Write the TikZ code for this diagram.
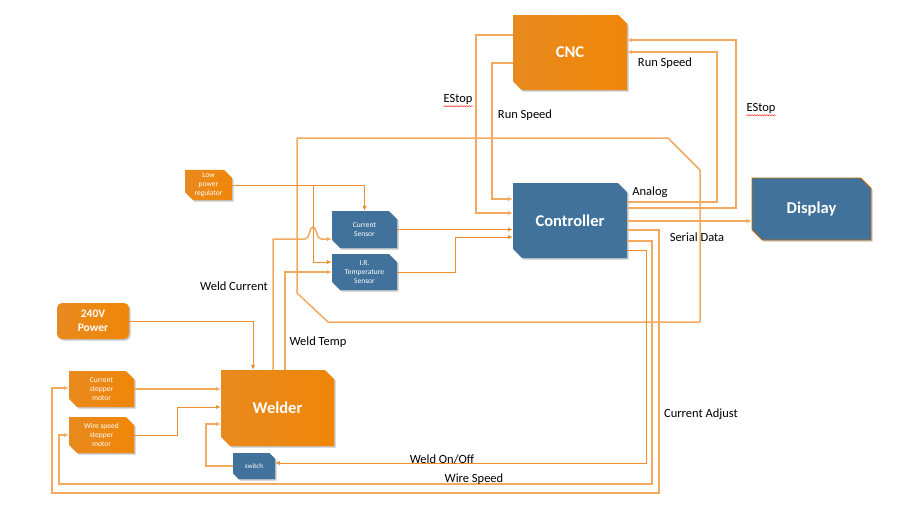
\documentclass[tikz,border=0pt]{standalone}
\usepackage{fontspec}
\setmainfont{Carlito}
\usetikzlibrary{arrows.meta,shapes.misc,shadows,decorations.pathmorphing}

\definecolor{boxorange}{HTML}{F08608}
\definecolor{boxorangelt}{HTML}{E88A1E}
\definecolor{boxblue}{HTML}{41729B}
\definecolor{wireorange}{HTML}{EE8E2E}
\definecolor{busorange}{HTML}{F3AA5E}

\tikzset{
  block/.style={chamfered rectangle, chamfered rectangle corners={north east,south west},
    chamfered rectangle xsep=12pt, inner sep=0pt, text=white, align=center,
    drop shadow={shadow xshift=1.5pt,shadow yshift=-1.5pt,opacity=0.45}},
  smallblock/.style={block, chamfered rectangle xsep=5pt, font=\fontsize{7.5}{9}\selectfont},
  orangefill/.style={left color=boxorangelt, right color=boxorange},
  bluefill/.style={fill=boxblue},
  bigtext/.style={font=\fontsize{16.5}{20}\selectfont\bfseries},
  lbl/.style={inner sep=0pt, text=black, font=\fontsize{12.5}{14}\selectfont},
  wire/.style={draw=wireorange, line width=1pt},
  bus/.style={draw=busorange, line width=1.5pt},
  tip/.style={-{Latex[length=5pt,width=4.5pt]}},
  spell/.style={draw=red!80, line width=0.5pt, decorate, decoration={snake,amplitude=0.6pt,segment length=2.5pt}}
}

\begin{document}
\begin{tikzpicture}[x=1pt,y=-1pt]
\useasboundingbox (0,0) rectangle (899,512);

%blocks
\node[block, orangefill, bigtext, minimum width=114pt, minimum height=75pt] (cnc) at (570,52.5) {CNC};
\node[block, bluefill, bigtext, minimum width=114pt, minimum height=75pt] (ctrl) at (570,220.5) {Controller};
\node[block, bluefill, draw=boxorange!80!black, line width=0.8pt, bigtext, minimum width=119pt, minimum height=62pt] (disp) at (811.5,209) {Display};
\node[smallblock, orangefill, minimum width=47pt, minimum height=30pt] (reg) at (208.5,185) {Low\\power\\regulator};
\node[smallblock, bluefill, minimum width=65pt, minimum height=37pt] (csens) at (364.5,229.5) {Current\\Sensor};
\node[smallblock, bluefill, minimum width=65pt, minimum height=36pt] (irsens) at (364.5,272) {I.R.\\Temperature\\Sensor};
\node[rounded corners=5pt, orangefill, text=white, align=center, inner sep=0pt, font=\fontsize{11.5}{14}\selectfont\bfseries,
  minimum width=72pt, minimum height=36pt, drop shadow={shadow xshift=1.5pt,shadow yshift=-1.5pt,opacity=0.45}] (pwr) at (93,321) {240V\\Power};
\node[smallblock, orangefill, minimum width=65pt, minimum height=36pt] (cmot) at (101.5,389) {Current\\stepper\\motor};
\node[smallblock, orangefill, minimum width=65pt, minimum height=36pt] (wmot) at (101.5,435) {Wire speed\\stepper\\motor};
\node[block, orangefill, bigtext, minimum width=113pt, minimum height=76pt] (weld) at (277.5,408) {Welder};
\node[smallblock, bluefill, font=\fontsize{7}{8}\selectfont, minimum width=42pt, minimum height=26pt] (sw) at (254,466) {switch};

%outline round the sensing side
\draw[bus, line join=round] (297,138) -- (668,138) -- (700,170) -- (700,322) -- (328,322) -- (297,293) -- cycle;

%CNC to controller
\draw[bus, tip] (cnc.west |- 0,35) -| (476,213) -- (ctrl.west |- 0,213);
\draw[bus, tip] (cnc.west |- 0,63) -| (492,199) -- (ctrl.west |- 0,199);

%controller back to CNC
\draw[bus, tip] (ctrl.east |- 0,202) -| (717,52) -- (cnc.east |- 0,52);
\draw[bus, tip] (ctrl.east |- 0,208) -| (736,40) -- (cnc.east |- 0,40);

%controller to display
\draw[bus, tip] (ctrl.east |- 0,221) -- (disp.west |- 0,221);

%controller down to the motors and the switch
\draw[bus, tip] (ctrl.east |- 0,230) -| (659,493) -| (52,388) -- (cmot.west |- 0,388);
\draw[bus, tip] (ctrl.east |- 0,241) -| (652,484) -| (59,435) -- (wmot.west |- 0,435);
\draw[wire, tip] (ctrl.east |- 0,250) -| (646,463) -- (sw.east |- 0,463);

%into the welder
\draw[wire, tip] (pwr.east) -| (253,0 |- weld.north);
\draw[bus, tip] (cmot.east) -- (weld.west |- cmot.east);
\draw[wire, tip] (wmot.east) -| (177,407) -- (weld.west |- 0,407);
\draw[bus, tip] (sw.west) -| (206,424) -- (weld.west |- 0,424);

%welder up to the sensors
\draw[bus, tip] (273,0 |- weld.north) -- (273,239) -- (305,239)
  .. controls (310,239) and (309,227) .. (313,227)
  .. controls (317,227) and (316,239) .. (321,239) -- (csens.west |- 0,239);
\draw[bus, tip] (285,0 |- weld.north) |- (irsens.west);

%regulator
\draw[wire, tip] (reg.east) -| (csens.north);
\draw[wire, tip] (313,0 |- reg.east) |- (irsens.west |- 0,262);

%sensors to controller
\draw[wire, tip] (csens.east) -- (ctrl.west |- csens.east);
\draw[wire, tip] (irsens.east) -| (455,237) -- (ctrl.west |- 0,237);

%labels
\node[lbl] (estopl) at (458,99) {EStop};
\node[lbl] (runl) at (525,115) {Run Speed};
\node[lbl] (runr) at (665,63) {Run Speed};
\node[lbl] (estopr) at (761,108) {EStop};
\node[lbl] (analog) at (650,192) {Analog};
\node[lbl] (serial) at (697,237) {Serial Data};
\node[lbl] (wcur) at (234,286) {Weld Current};
\node[lbl] (wtemp) at (318,342) {Weld Temp};
\node[lbl] (cadj) at (701,414) {Current Adjust};
\node[lbl] (onoff) at (442,459) {Weld On/Off};
\node[lbl] (wspeed) at (474,479) {Wire Speed};
\draw[spell] ([yshift=-2pt]estopl.south west) -- ([yshift=-2pt]estopl.south east);
\draw[spell] ([yshift=-2pt]estopr.south west) -- ([yshift=-2pt]estopr.south east);
\end{tikzpicture}
\end{document}
